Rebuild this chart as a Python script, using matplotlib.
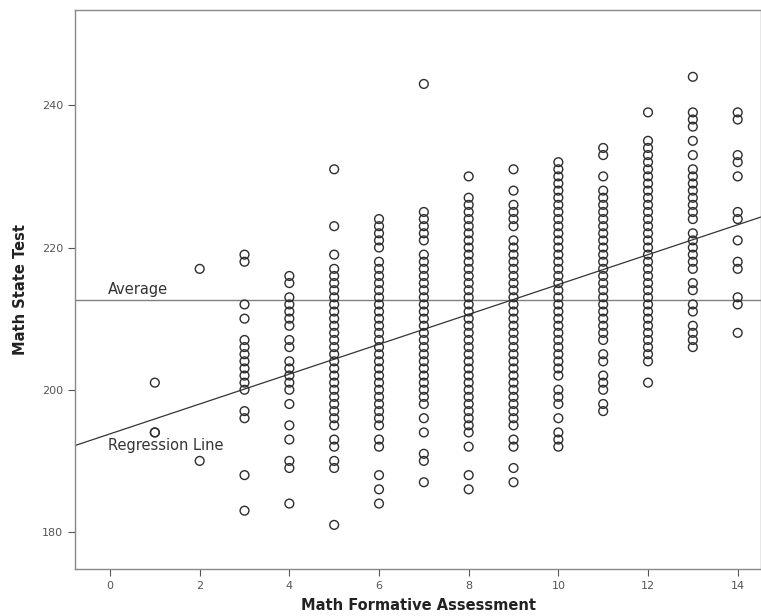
import matplotlib
matplotlib.use("Agg")
import matplotlib.pyplot as plt
import numpy as np

# Math State Test scores, one list per Math Formative Assessment score
formative_scores = [1, 2, 3, 4, 5, 6, 7, 8, 9, 10, 11, 12, 13, 14]
state_at_1 = [201, 194, 194]
state_at_2 = [217, 190]
state_at_3 = [219, 218, 212, 210, 207, 206, 205, 204, 203, 202, 201, 200, 197, 196, 188, 183]
state_at_4 = [216, 215, 213, 212, 211, 210, 209, 207, 206, 204, 203, 202, 201, 200, 198, 195,
              193, 190, 189, 184]
state_at_5 = [231, 223, 219, 217, 216, 215, 214, 213, 212, 211, 210, 209, 208, 207, 206, 205,
              204, 203, 202, 201, 200, 199, 198, 197, 196, 195, 193, 192, 190, 189, 181]
state_at_6 = [224, 223, 222, 221, 220, 218, 217, 216, 215, 214, 213, 212, 211, 210, 209, 208,
              207, 206, 205, 204, 203, 202, 201, 200, 199, 198, 197, 196, 195, 193, 192, 188,
              186, 184]
state_at_7 = [243, 225, 224, 223, 222, 221, 219, 218, 217, 216, 215, 214, 213, 212, 211, 210,
              209, 208, 207, 206, 205, 204, 203, 202, 201, 200, 199, 198, 196, 194, 191, 190, 187]
state_at_8 = [230, 227, 226, 225, 224, 223, 222, 221, 220, 219, 218, 217, 216, 215, 214, 213,
              212, 211, 210, 209, 208, 207, 206, 205, 204, 203, 202, 201, 200, 199, 198, 197,
              196, 195, 194, 192, 188, 186]
state_at_9 = [231, 228, 226, 225, 224, 223, 221, 220, 219, 218, 217, 216, 215, 214, 213, 212,
              211, 210, 209, 208, 207, 206, 205, 204, 203, 202, 201, 200, 199, 198, 197, 196,
              195, 193, 192, 189, 187]
state_at_10 = [232, 231, 230, 229, 228, 227, 226, 225, 224, 223, 222, 221, 220, 219, 218, 217,
               216, 215, 214, 213, 212, 211, 210, 209, 208, 207, 206, 205, 204, 203, 202, 200,
               199, 198, 196, 194, 193, 192]
state_at_11 = [234, 233, 230, 228, 227, 226, 225, 224, 223, 222, 221, 220, 219, 218, 217, 216,
               215, 214, 213, 212, 211, 210, 209, 208, 207, 205, 204, 202, 201, 200, 198, 197]
state_at_12 = [239, 235, 234, 233, 232, 231, 230, 229, 228, 227, 226, 225, 224, 223, 222, 221,
               220, 219, 218, 217, 216, 215, 214, 213, 212, 211, 210, 209, 208, 207, 206, 205,
               204, 201]
state_at_13 = [244, 239, 238, 237, 235, 233, 231, 230, 229, 228, 227, 226, 225, 224, 222, 221,
               220, 219, 218, 217, 215, 214, 212, 211, 209, 208, 207, 206]
state_at_14 = [239, 238, 233, 232, 230, 225, 224, 221, 218, 217, 213, 212, 208]

state_columns = [state_at_1, state_at_2, state_at_3, state_at_4, state_at_5, state_at_6,
                 state_at_7, state_at_8, state_at_9, state_at_10, state_at_11, state_at_12,
                 state_at_13, state_at_14]

average_score = 212.6
reg_intercept = 193.8
reg_slope = 2.1

x_ticks = [0, 2, 4, 6, 8, 10, 12, 14]
y_ticks = [180, 200, 220, 240]

xs = np.concatenate([[s] * len(col) for s, col in zip(formative_scores, state_columns)])
ys = np.concatenate(state_columns)

fig = plt.figure(figsize=(7.61, 6.16), dpi=100)
ax = fig.add_axes([0.0986, 0.0763, 0.9014, 0.9075])

ax.scatter(xs, ys, s=40, facecolors="none", edgecolors="#2e2e2e", linewidths=1.0, zorder=3)

ax.axhline(average_score, color="#808080", lw=1.0, zorder=2)
xl = np.array([-0.78, 14.52])
ax.plot(xl, reg_intercept + reg_slope * xl, color="#333333", lw=0.9, zorder=2)

ax.text(-0.05, average_score + 0.5, "Average", fontsize=10.5, color="#333333",
        ha="left", va="bottom")
ax.text(-0.05, 192.1, "Regression Line", fontsize=10.5, color="#333333",
        ha="left", va="center")

ax.set_xlim(-0.78, 14.52)
ax.set_ylim(174.8, 253.4)
ax.set_xticks(x_ticks)
ax.set_yticks(y_ticks)
ax.tick_params(axis="both", labelsize=8, colors="#555555", length=5, width=0.8, direction="out")
ax.tick_params(axis="x", pad=4)
for sp in ax.spines.values():
    sp.set_color("#888888")
    sp.set_linewidth(1.0)

ax.set_xlabel("Math Formative Assessment", fontsize=10.5, fontweight="bold", color="#222222", labelpad=5)
ax.set_ylabel("Math State Test", fontsize=10.5, fontweight="bold", color="#222222", labelpad=10)

fig.savefig("out.png", dpi=100)
